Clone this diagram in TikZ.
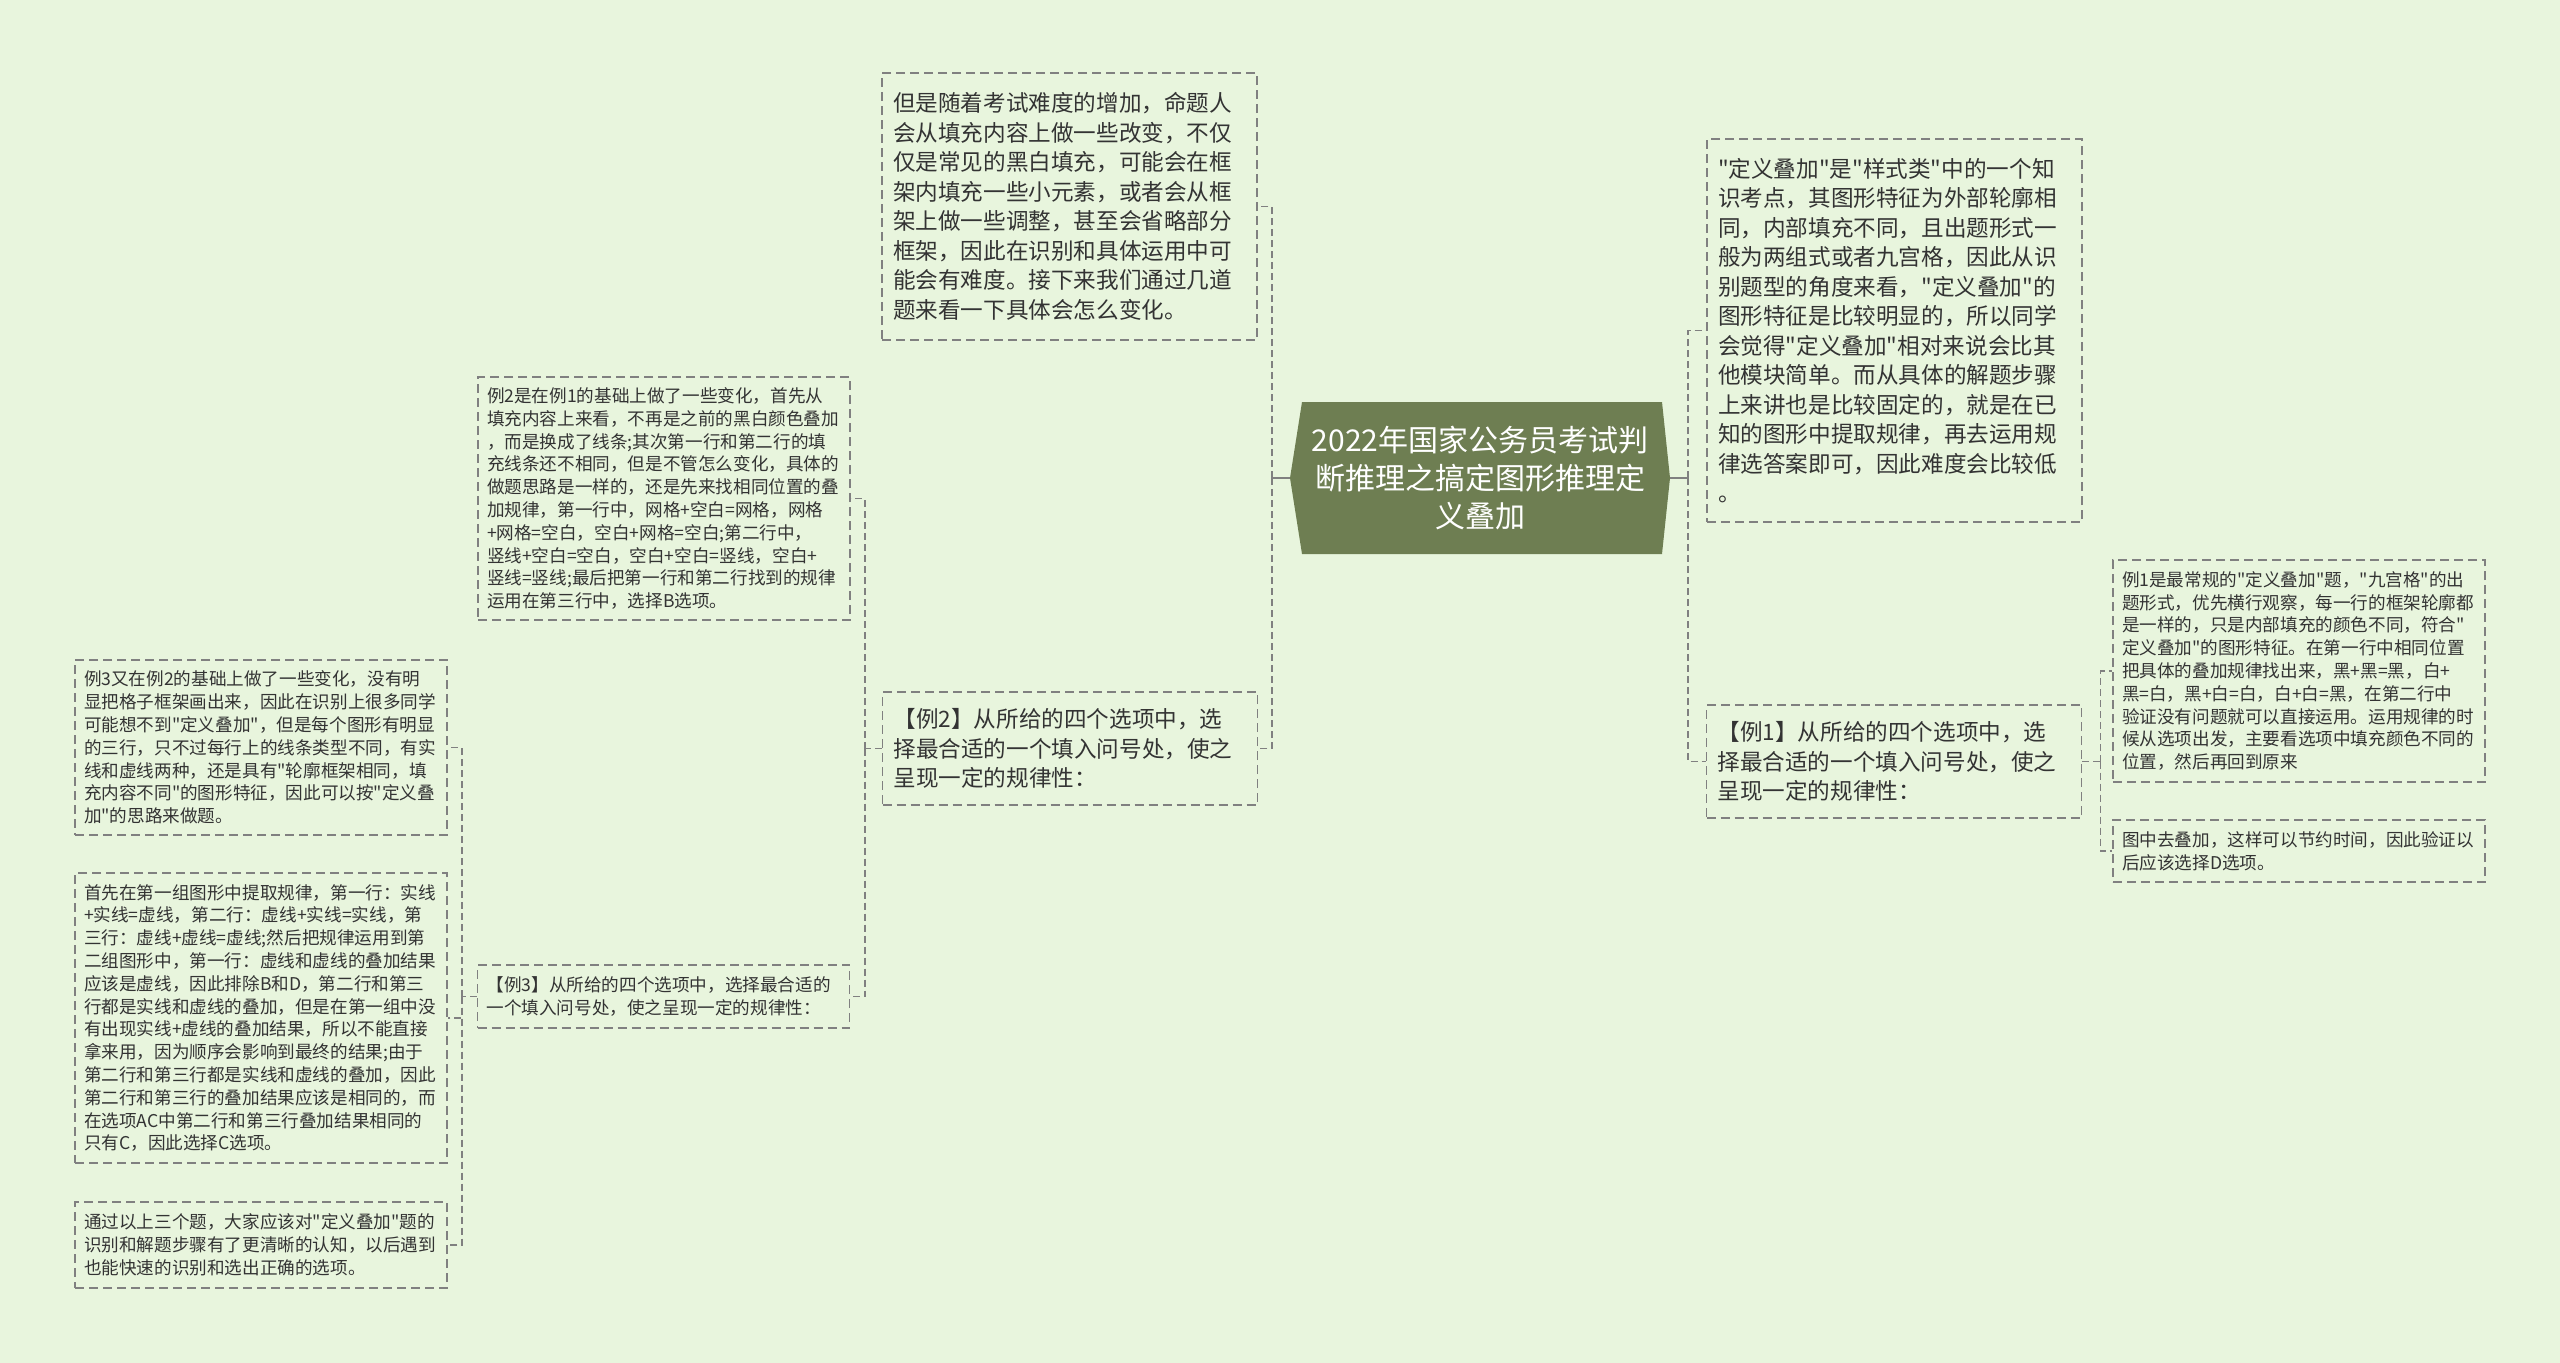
\documentclass[tikz,border=0pt]{standalone}
\usepackage{fontspec}
\setmainfont{Noto Sans CJK SC}[Ligatures=TeXOff]

\definecolor{bgcol}{RGB}{232,245,221}
\definecolor{topicfill}{RGB}{110,126,82}
\definecolor{boxline}{RGB}{128,128,128}
\definecolor{linkcol}{RGB}{128,128,128}
\definecolor{txt}{RGB}{51,51,51}

\begin{document}
\begin{tikzpicture}[x=1pt,y=-1pt,
  bigbox/.style={draw=boxline, line width=1.5pt, dash pattern=on 9pt off 5pt,
    text=txt, align=left, inner xsep=11pt, inner ysep=0pt, text width=353pt,
    font=\fontsize{22.6pt}{29.5pt}\selectfont},
  smallbox/.style={bigbox, inner xsep=9pt, text width=354pt,
    font=\fontsize{17.6pt}{22.8pt}\selectfont},
  topic/.style={text=white, align=center, inner sep=0pt, minimum width=380pt,
    minimum height=152pt, text width=350pt, font=\fontsize{30pt}{38pt}\selectfont},
  link/.style={draw=linkcol, line width=1.5pt, dash pattern=on 7pt off 4pt},
  stub/.style={draw=linkcol, line width=2pt}]
\useasboundingbox (0,0) rectangle (2560,1363);
\fill[bgcol] (0,0) rectangle (2560,1363);

% centre topic
\fill[topicfill] (1302,402) -- (1662,402) -- (1670,478) -- (1662,554)
  -- (1302,554) -- (1290,478) -- cycle;
\node[topic] (root) at (1480,478) {2022年国家公务员考试判\\断推理之搞定图形推理定\\义叠加};

% right side
\node[bigbox, minimum height=383pt] (def) at (1894.5,330.5) {"定义叠加"是"样式类"中的一个知\\识考点，其图形特征为外部轮廓相\\同，内部填充不同，且出题形式一\\般为两组式或者九宫格，因此从识\\别题型的角度来看，"定义叠加"的\\图形特征是比较明显的，所以同学\\会觉得"定义叠加"相对来说会比其\\他模块简单。而从具体的解题步骤\\上来讲也是比较固定的，就是在已\\知的图形中提取规律，再去运用规\\律选答案即可，因此难度会比较低\\。};
\node[bigbox, minimum height=113pt] (ex1) at (1894,761.5) {【例1】从所给的四个选项中，选\\择最合适的一个填入问号处，使之\\呈现一定的规律性：};
\node[smallbox, minimum height=222pt] (sol1) at (2299,671) {例1是最常规的"定义叠加"题，"九宫格"的出\\题形式，优先横行观察，每一行的框架轮廓都\\是一样的，只是内部填充的颜色不同，符合"\\定义叠加"的图形特征。在第一行中相同位置\\把具体的叠加规律找出来，黑+黑=黑，白+\\黑=白，黑+白=白，白+白=黑，在第二行中\\验证没有问题就可以直接运用。运用规律的时\\候从选项出发，主要看选项中填充颜色不同的\\位置，然后再回到原来};
\node[smallbox, minimum height=62pt] (end1) at (2299,851) {图中去叠加，这样可以节约时间，因此验证以\\后应该选择D选项。};

% left side
\node[bigbox, minimum height=267pt] (intro) at (1069.5,206.5) {但是随着考试难度的增加，命题人\\会从填充内容上做一些改变，不仅\\仅是常见的黑白填充，可能会在框\\架内填充一些小元素，或者会从框\\架上做一些调整，甚至会省略部分\\框架，因此在识别和具体运用中可\\能会有难度。接下来我们通过几道\\题来看一下具体会怎么变化。};
\node[bigbox, minimum height=113pt] (ex2) at (1070,748.5) {【例2】从所给的四个选项中，选\\择最合适的一个填入问号处，使之\\呈现一定的规律性：};
\node[smallbox, minimum height=243pt] (sol2) at (664,498.5) {例2是在例1的基础上做了一些变化，首先从\\填充内容上来看，不再是之前的黑白颜色叠加\\，而是换成了线条;其次第一行和第二行的填\\充线条还不相同，但是不管怎么变化，具体的\\做题思路是一样的，还是先来找相同位置的叠\\加规律，第一行中，网格+空白=网格，网格\\+网格=空白，空白+网格=空白;第二行中，\\竖线+空白=空白，空白+空白=竖线，空白+\\竖线=竖线;最后把第一行和第二行找到的规律\\运用在第三行中，选择B选项。};
\node[smallbox, minimum height=63pt] (ex3) at (663.5,996.5) {【例3】从所给的四个选项中，选择最合适的\\一个填入问号处，使之呈现一定的规律性：};
\node[smallbox, minimum height=175pt] (sol3a) at (261,747.5) {例3又在例2的基础上做了一些变化，没有明\\显把格子框架画出来，因此在识别上很多同学\\可能想不到"定义叠加"，但是每个图形有明显\\的三行，只不过每行上的线条类型不同，有实\\线和虚线两种，还是具有"轮廓框架相同，填\\充内容不同"的图形特征，因此可以按"定义叠\\加"的思路来做题。};
\node[smallbox, minimum height=290pt] (sol3b) at (261,1018) {首先在第一组图形中提取规律，第一行：实线\\+实线=虚线，第二行：虚线+实线=实线，第\\三行：虚线+虚线=虚线;然后把规律运用到第\\二组图形中，第一行：虚线和虚线的叠加结果\\应该是虚线，因此排除B和D，第二行和第三\\行都是实线和虚线的叠加，但是在第一组中没\\有出现实线+虚线的叠加结果，所以不能直接\\拿来用，因为顺序会影响到最终的结果;由于\\第二行和第三行都是实线和虚线的叠加，因此\\第二行和第三行的叠加结果应该是相同的，而\\在选项AC中第二行和第三行叠加结果相同的\\只有C，因此选择C选项。};
\node[smallbox, minimum height=86pt] (summ) at (261,1245) {通过以上三个题，大家应该对"定义叠加"题的\\识别和解题步骤有了更清晰的认知，以后遇到\\也能快速的识别和选出正确的选项。};

% connectors
\draw[stub] (root.west) -- ++(-18,0) coordinate (lbus);
\draw[link] (lbus) |- (intro.east);
\draw[link] (lbus) |- (ex2.east);
\draw[stub] (root.east) -- ++(18,0) coordinate (rbus);
\draw[link] (rbus) |- (def.west);
\draw[link] (rbus) |- (ex1.west);
\draw[link] (ex1.east) -- ++(18,0) coordinate (bus1);
\draw[link] (bus1) |- (sol1.west);
\draw[link] (bus1) |- (end1.west);
\draw[link] (ex2.west) -- ++(-17,0) coordinate (bus2);
\draw[link] (bus2) |- (sol2.east);
\draw[link] (bus2) |- (ex3.east);
\draw[link] (ex3.west) -- ++(-15,0) coordinate (bus3);
\draw[link] (bus3) |- (sol3a.east);
\draw[link] (bus3) |- (sol3b.east);
\draw[link] (bus3) |- (summ.east);
\end{tikzpicture}
\end{document}
